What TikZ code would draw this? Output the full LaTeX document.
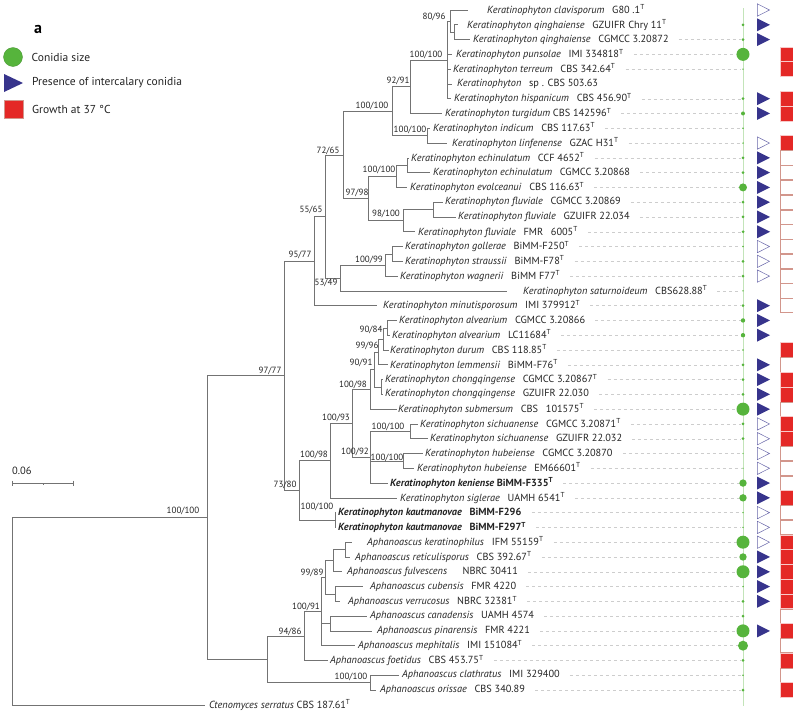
\documentclass[tikz,border=0pt]{standalone}
\usepackage{fontspec}
\setmainfont{PT Sans}
\usetikzlibrary{calc,positioning}
\definecolor{treegray}{RGB}{115,115,115}
\definecolor{txtgray}{RGB}{35,35,35}
\definecolor{dotgreen}{RGB}{86,180,60}
\definecolor{purp}{RGB}{55,52,140}
\definecolor{sqred}{RGB}{228,40,38}
\definecolor{sqedge}{RGB}{210,150,140}
\definecolor{dashgray}{RGB}{205,205,205}
\definecolor{linegreen}{RGB}{195,228,185}
\newcommand{\exT}{\textsuperscript{T}}
\newcommand{\gp}{\hspace{0.75em}}
\newcommand{\Ker}[1]{\textit{Keratinophyton #1}}
\newcommand{\Aph}[1]{\textit{Aphanoascus #1}}

\begin{document}
\begin{tikzpicture}[x=1pt,y=-1pt,
  branch/.style={draw=treegray,line width=0.6pt},
  leaf/.style={anchor=west,inner sep=0pt,text=txtgray,font=\fontsize{10.3}{11}\selectfont},
  boot/.style={inner sep=0pt,text=txtgray,font=\fontsize{9}{10}\selectfont},
  legtxt/.style={anchor=west,inner sep=0pt,text=txtgray,font=\fontsize{11.5}{12}\selectfont},
  guide/.style={draw=dashgray,line width=0.4pt,dash pattern=on 3pt off 3pt}]
\useasboundingbox (0,0) rectangle (793,710);

% legend
\node[inner sep=0pt,font=\bfseries\fontsize{16}{16}\selectfont] (panel) at (38,29) {a};
\filldraw[fill=dotgreen,draw=dotgreen!80!black,line width=0.3pt] (13,57) circle[radius=9.5];
\coordinate (keyc) at (22.5,57);
\fill[purp] (4,74) -- (4,92) -- (23,83) -- cycle;
\coordinate (keyt) at (23,83);
\filldraw[fill=sqred,draw=sqedge,line width=0.3pt] (4,100) rectangle (23,118);
\coordinate (keys) at (23,109);
\node[legtxt,right=9pt of keyc] (kc) {Conidia size};
\node[legtxt,right=9pt of keyt] (kt) {Presence of intercalary conidia};
\node[legtxt,right=9pt of keys] (ks) {Growth at 37 °C};

% scale bar
\node[anchor=south west,inner sep=0pt,text=txtgray,font=\fontsize{10.5}{11}\selectfont] (scl) at (12,475) {0.06};
\draw[treegray,line width=0.6pt] (12,483) -- (73,483);
\draw[treegray,line width=0.6pt] (12,480.5) -- (12,485.5) (73,480.5) -- (73,485.5) (43,483) -- (43,485);

% leaves
\foreach \i/\tip/\tx/\lab in {
  1/468/487/{\Ker{clavisporum}\gp G80 .1\exT},
  2/458/467/{\Ker{qinghaiense}\gp GZUIFR Chry 11\exT},
  3/470/473/{\Ker{qinghaiense}\gp CGMCC 3.20872},
  4/452/456/{\Ker{punsolae}\gp IMI 334818\exT},
  5/451/453/{\Ker{terreum}\gp CBS 342.64\exT},
  6/452/457/{\textit{Keratinophyton}\gp sp . CBS 503.63},
  7/451/454/{\Ker{hispanicum}\gp CBS 456.90\exT},
  8/442/445/{\Ker{turgidum} CBS 142596\exT},
  9/430/433/{\Ker{indicum}\gp CBS 117.63\exT},
  10/447/452/{\Ker{linfenense}\gp GZAC H31\exT},
  11/409/411/{\Ker{echinulatum}\gp CCF 4652\exT},
  12/430/433/{\Ker{echinulatum}\gp CGMCC 3.20868},
  13/407/410/{\Ker{evolceanui}\gp CBS 116.63\exT},
  14/443/445/{\Ker{fluviale}\gp CGMCC 3.20869},
  15/456/458/{\Ker{fluviale}\gp GZUIFR 22.034},
  16/415/418/{\Ker{fluviale}\gp FMR\gp 6005\exT},
  17/403/405/{\Ker{gollerae}\gp BiMM-F250\exT},
  18/403/405/{\Ker{straussii}\gp BiMM-F78\exT},
  19/398/400/{\Ker{wagnerii}\gp BiMM\ F77\exT},
  20/507/523/{\Ker{saturnoideum}\gp CBS628.88\exT},
  21/377/383/{\Ker{minutisporosum}\gp IMI 379912\exT},
  22/397/399/{\Ker{alvearium}\gp CGMCC 3.20866},
  23/390/392/{\Ker{alvearium}\gp LC11684\exT},
  24/389/390/{\Ker{durum}\gp CBS 118.85\exT},
  25/388/390/{\Ker{lemmensii}\gp BiMM-F76\exT},
  26/383/385/{\Ker{chongqingense}\gp CGMCC 3.20867\exT},
  27/383/385/{\Ker{chongqingense}\gp GZUIFR 22.030},
  28/397/398/{\Ker{submersum}\gp CBS\gp 101575\exT},
  29/418/420/{\Ker{sichuanense}\gp CGMCC 3.20871\exT},
  30/428/430/{\Ker{sichuanense}\gp GZUIFR 22.032},
  31/423/425/{\Ker{hubeiense}\gp CGMCC 3.20870},
  32/414/417/{\Ker{hubeiense}\gp EM66601\exT},
  33/388/390/{\textbf{\Ker{keniense} BiMM-F335\exT}},
  34/397/400/{\Ker{siglerae}\gp UAMH 6541\exT},
  35/336/338/{\textbf{\Ker{kautmanovae}\gp BiMM-F296}},
  36/336/338/{\textbf{\Ker{kautmanovae}\gp BiMM-F297\exT}},
  37/352/367/{\Aph{keratinophilus}\gp IFM 55159\exT},
  38/350/355/{\Aph{reticulisporus}\gp CBS 392.67\exT},
  39/342/347/{\Aph{fulvescens}\gp\gp NBRC 30411},
  40/363/370/{\Aph{cubensis}\gp FMR 4220},
  41/340/348/{\Aph{verrucosus}\gp NBRC 32381\exT},
  42/367/370/{\Aph{canadensis}\gp UAMH 4574},
  43/372/377/{\Aph{pinarensis}\gp FMR 4221},
  44/355/358/{\Aph{mephitalis}\gp IMI 151084\exT},
  45/328/330/{\Aph{foetidus}\gp CBS 453.75\exT},
  46/399/402/{\Aph{clathratus}\gp IMI 329400},
  47/376/380/{\Aph{orissae}\gp CBS 340.89},
  48/205/209/{\textit{Ctenomyces serratus} CBS 187.61\exT}}{
  \pgfmathsetmacro\yy{10+(\i-1)*14.783}
  \coordinate (t\i) at (\tip,\yy);
  \node[leaf] (l\i) at (\tx,\yy) {\lab};
}

% internal nodes
\coordinate (R) at (12,611.2);
\coordinate (IN) at (207,517.5);
\coordinate (K) at (284,375.7);
\coordinate (U) at (314,261.1);
\coordinate (V) at (325,216.5);
\coordinate (W) at (343,154.9);
\coordinate (T1) at (392,111.2);
\coordinate (T3) at (410,86.7);
\coordinate (T5) at (447,59.9);
\coordinate (T6) at (450,21.1);
\coordinate (T7) at (454,32.2);
\coordinate (T4) at (427,135.7);
\coordinate (T2) at (368,198.5);
\coordinate (T8) at (396,176.3);
\coordinate (T10) at (407,165.2);
\coordinate (T9) at (403,220.7);
\coordinate (T11) at (433,209.6);
\coordinate (X) at (340,278.0);
\coordinate (T12) at (385,265.0);
\coordinate (T13) at (392,253.9);
\coordinate (L) at (299,490.3);
\coordinate (M) at (330,460.6);
\coordinate (M1) at (352,423.3);
\coordinate (M2) at (370,389.3);
\coordinate (M4) at (374,369.5);
\coordinate (M7) at (378,351.9);
\coordinate (M10) at (383,338.9);
\coordinate (M9) at (387,327.8);
\coordinate (M8) at (381,387.0);
\coordinate (M3) at (370,457.2);
\coordinate (M5) at (410,431.3);
\coordinate (M6) at (403,460.9);
\coordinate (N) at (335,520.0);
\coordinate (A) at (267,659.3);
\coordinate (P6) at (304,636.0);
\coordinate (P5) at (321,611.5);
\coordinate (P2) at (325,577.3);
\coordinate (P1) at (333,560.7);
\coordinate (Pk) at (345,549.6);
\coordinate (P3) at (335,593.9);
\coordinate (P4) at (330,623.5);
\coordinate (P7) at (370,682.6);

% branches
\foreach \p/\c in {R/IN,R/t48,IN/K,IN/A,K/U,K/L,U/V,U/t21,V/W,V/X,W/T1,W/T2,
  T1/T3,T1/T4,T3/T5,T3/t8,T5/T6,T5/t4,T5/t5,T5/t6,T5/t7,T6/t1,T6/T7,T7/t2,T7/t3,
  T4/t9,T4/t10,T2/T8,T2/T9,T8/T10,T8/t13,T10/t11,T10/t12,T9/T11,T9/t16,T11/t14,T11/t15,
  X/T12,X/t20,T12/T13,T12/t19,T13/t17,T13/t18,
  L/M,L/N,M/M1,M/t34,M1/M2,M1/M3,M2/M4,M2/t28,M4/M7,M4/M8,M7/M10,M7/t25,M10/M9,M10/t24,
  M9/t22,M9/t23,M8/t26,M8/t27,M3/M5,M3/M6,M3/t33,M5/t29,M5/t30,M6/t31,M6/t32,N/t35,N/t36,
  A/P6,A/P7,P6/P5,P6/t45,P5/P2,P5/P4,P5/t44,P2/P1,P2/P3,P1/Pk,P1/t39,Pk/t37,Pk/t38,
  P3/t40,P3/t41,P4/t42,P4/t43,P7/t46,P7/t47}
  \draw[branch] (\p) |- (\c);

% support values
\foreach \x/\y/\v in {434/17/80\slash96, 426/55/100\slash100, 398/81/92\slash91,
  372/106/100\slash100, 410/130/100\slash100, 328/151/72\slash65, 379/170/100\slash100,
  357/193/97\slash98, 386/214/98\slash100, 311/210/55\slash65, 300/255/95\slash77,
  369/260/100\slash99, 326/283/53\slash49, 371/330/90\slash84, 367/346/99\slash96,
  361/363/90\slash91, 353/385/100\slash98, 270/371/97\slash77, 336/418/100\slash93,
  388/427/100\slash100, 355/452/100\slash92, 387/458/100\slash100, 314/455/100\slash98,
  285/485/73\slash80, 317/507/100\slash100, 183/511/100\slash100, 312/573/99\slash89,
  306/607/100\slash91, 290/632/94\slash86, 351/677/100\slash100}
  \node[boot] at (\x,\y) {\v};

% trait columns
\draw[linegreen,line width=0.5pt] (743,8) -- (743,706);
\foreach \i in {3,4,5,7,8,...,47}
  \draw[guide] ($(l\i.east)+(10,0)$) -- (l\i.east -| 741,0);
\foreach \i/\r/\tri/\sq in {1/0/2/0,2/1.5/1/0,3/1.5/1/0,4/6.5/0/1,5/0.8/0/1,6/0/0/0,
  7/1.5/1/1,8/2/1/1,9/0.8/0/0,10/0.8/2/1,11/1.5/1/2,12/1.5/1/2,13/4/1/2,14/1.5/1/2,
  15/1.5/1/2,16/1.5/1/2,17/0.8/2/2,18/1.5/2/2,19/1.5/2/2,20/0.8/0/2,21/1.5/1/2,
  22/2.2/1/0,23/2.2/1/0,24/0.8/0/1,25/1.5/1/2,26/1.5/1/1,27/1.5/1/1,28/6.5/1/2,
  29/1.5/2/1,30/1.5/2/1,31/0.6/2/2,32/0.6/2/2,33/3.7/1/2,34/3.7/1/1,35/0.8/2/2,
  36/0.8/2/2,37/6.5/2/1,38/3.7/1/1,39/6.5/1/1,40/0.8/1/1,41/1.5/1/1,42/1.5/0/2,
  43/6.5/1/1,44/5/0/2,45/1.5/0/1,46/0.8/0/2,47/1.5/0/1}{
  \pgfmathsetmacro\yy{10+(\i-1)*14.783}
  \ifdim\r pt>0pt \fill[dotgreen] (743,\yy) circle[radius=\r]; \fi
  \ifnum\tri=1 \fill[purp] (757,{\yy-6.5}) -- (757,{\yy+6.5}) -- (770,\yy) -- cycle; \fi
  \ifnum\tri=2 \draw[purp!75,line width=0.5pt] (757.3,{\yy-6.2}) -- (757.3,{\yy+6.2}) -- (769.5,\yy) -- cycle; \fi
  \ifnum\sq=1 \filldraw[fill=sqred,draw=white!75!sqred,line width=0.5pt] (780,{\yy-7.39}) rectangle (796,{\yy+7.39}); \fi
  \ifnum\sq=2 \draw[sqedge,line width=0.6pt] (780.3,{\yy-7.1}) rectangle (796,{\yy+7.1}); \fi
}
\end{tikzpicture}
\end{document}
